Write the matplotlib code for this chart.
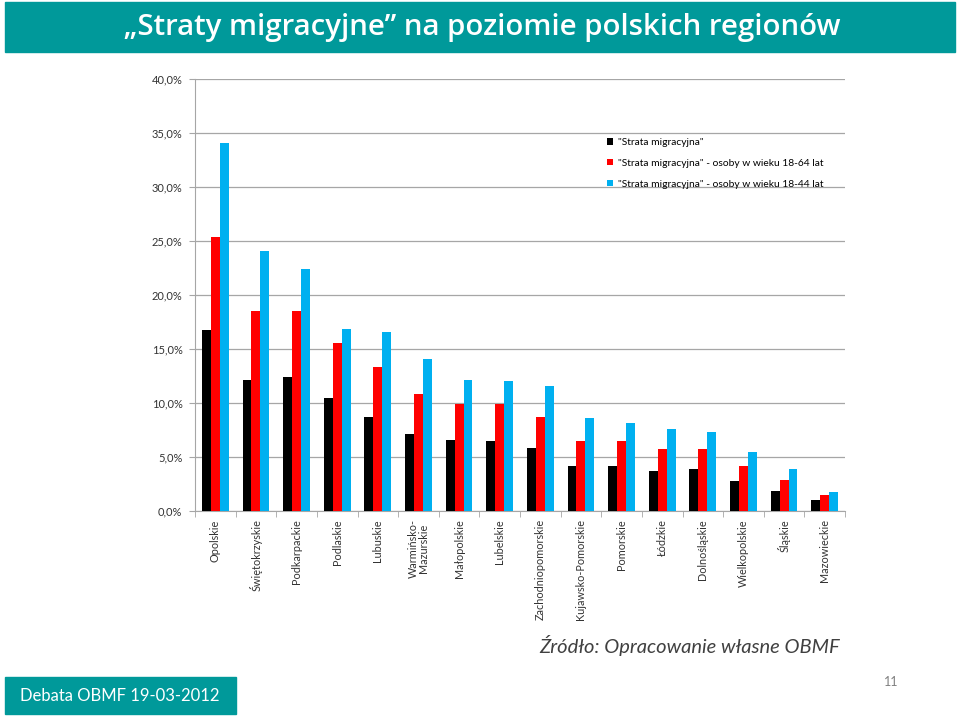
import numpy as np
import matplotlib.pyplot as plt
from matplotlib.patches import Rectangle
from matplotlib.ticker import FuncFormatter, FixedLocator

regions = ["Opolskie", "Świętokrzyskie", "Podkarpackie", "Podlaskie", "Lubuskie",
           "Warmińsko-\nMazurskie", "Małopolskie", "Lubelskie", "Zachodniopomorskie",
           "Kujawsko-Pomorskie", "Pomorskie", "Łódzkie", "Dolnośląskie",
           "Wielkopolskie", "Śląskie", "Mazowieckie"]

strata_all = [16.8, 12.1, 12.4, 10.45, 8.75, 7.15, 6.55, 6.45, 5.8, 4.2,
              4.2, 3.7, 3.85, 2.8, 1.85, 1.0]
strata_18_64 = [25.35, 18.5, 18.55, 15.55, 13.35, 10.85, 9.95, 9.95, 8.75, 6.5,
                6.5, 5.7, 5.75, 4.2, 2.85, 1.5]
strata_18_44 = [34.1, 24.1, 22.4, 16.85, 16.6, 14.1, 12.1, 12.05, 11.6, 8.65,
                8.15, 7.6, 7.35, 5.5, 3.9, 1.75]

series_labels = ['"Strata migracyjna"',
                 '"Strata migracyjna" - osoby w wieku 18-64 lat',
                 '"Strata migracyjna" - osoby w wieku 18-44 lat']
colors = ["#000000", "#FF0000", "#00B0F0"]
teal = "#00999A"

plt.rcParams['font.family'] = ['Lato', 'DejaVu Sans']

fig = plt.figure(figsize=(9.6, 7.16), dpi=100)

# title bar
fig.patches.append(Rectangle((5 / 960, 1 - 52 / 716), 950 / 960, 50 / 716,
                             transform=fig.transFigure, color=teal, zorder=0))
fig.text(482 / 960, 1 - 27 / 716, "\u201eStraty migracyjne\u201d na poziomie polskich regionów",
         ha='center', va='center', color='white', fontsize=21.2, fontweight='semibold',
         family=['Open Sans', 'DejaVu Sans'])

ax = fig.add_axes([195 / 960, 1 - 511 / 716, 650 / 960, 432 / 716])

x = np.arange(len(regions))
w = 0.22
for i, (vals, c, lab) in enumerate(zip([strata_all, strata_18_64, strata_18_44],
                                        colors, series_labels)):
    ax.bar(x + (i - 1) * w, vals, width=w, color=c, label=lab, zorder=3)

ax.set_xlim(-0.5, len(regions) - 0.5)
ax.set_ylim(0, 40)
ax.set_yticks(np.arange(0, 41, 5))
ax.yaxis.set_major_formatter(FuncFormatter(lambda v, p: f"{v:.1f}%".replace(".", ",")))
ax.yaxis.grid(True, color="#A6A6A6", linewidth=0.9, zorder=0)
ax.set_xticks(x)
ax.set_xticklabels(regions, rotation=90, fontsize=7.8, color="#333333", linespacing=1.0)
ax.tick_params(axis='x', length=0, pad=6)
ax.xaxis.set_minor_locator(FixedLocator(np.arange(-0.5, len(regions), 1)))
ax.tick_params(axis='x', which='minor', length=4, color="#A6A6A6")
ax.tick_params(axis='y', length=4, color="#A6A6A6", labelsize=8, labelcolor="#333333", pad=5)
for s in ['top', 'right']:
    ax.spines[s].set_visible(False)
for s in ['left', 'bottom']:
    ax.spines[s].set_color("#A6A6A6")

leg = ax.legend(loc='upper left', bbox_to_anchor=(0.62, 0.885), frameon=False,
                fontsize=7.4, handlelength=0.6, handleheight=0.6, handletextpad=0.4,
                labelspacing=1.15)

fig.text(840 / 960, 1 - 645 / 716, "Źródło: Opracowanie własne OBMF", ha='right',
         va='center', fontsize=14.5, style='italic', color="#404040")

fig.patches.append(Rectangle((5 / 960, 1 - 714 / 716), 231 / 960, 37 / 716,
                             transform=fig.transFigure, color=teal, zorder=0))
fig.text(120 / 960, 1 - 696 / 716, "Debata OBMF 19-03-2012", ha='center', va='center',
         fontsize=12, color='white')
fig.text(891 / 960, 1 - 682 / 716, "11", ha='center', va='center', fontsize=9,
         color="#808080")

fig.savefig("out.png", dpi=100)
